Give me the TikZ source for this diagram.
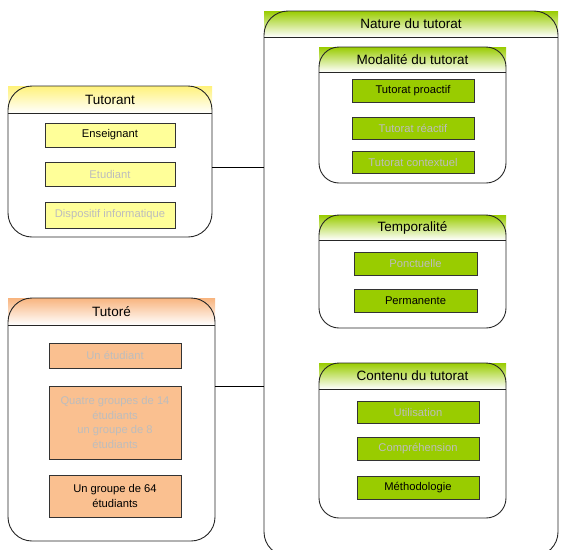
\documentclass[tikz,border=0pt]{standalone}
\usepackage{fontspec}
\setmainfont{Liberation Sans}
\definecolor{itemyellow}{HTML}{FFFF99}
\definecolor{headyellow}{HTML}{FFF27A}
\definecolor{itemorange}{HTML}{FAC090}
\definecolor{headorange}{HTML}{F8B47E}
\definecolor{itemgreen}{HTML}{99CC00}
\definecolor{headgreen}{HTML}{99CC00}
\definecolor{dimtext}{HTML}{BDBDBD}
\begin{document}
\begin{tikzpicture}[x=1pt,y=-1pt,
  panel/.style={draw=black!85,line width=0.9pt,rounded corners=24pt,inner sep=0pt},
  spanel/.style={draw=black!85,line width=0.9pt,rounded corners=20pt,inner sep=0pt},
  headline/.style={draw=black!85,line width=0.9pt},
  title/.style={font=\fontsize{13.5}{15}\selectfont,text=black,inner sep=0pt},
  item/.style={draw=black!80,line width=0.8pt,inner sep=1pt,align=center,
    font=\fontsize{11.2}{14.5}\selectfont},
  yitem/.style={item,fill=itemyellow,minimum width=130pt},
  oitem/.style={item,fill=itemorange,minimum width=132pt},
  gitem/.style={item,fill=itemgreen,minimum width=122pt},
  dim/.style={text=dimtext},
  link/.style={draw=black,line width=0.9pt}
]
\useasboundingbox (0,0) rectangle (561,549);
\clip (0,0) rectangle (561,549);

% ---------- Tutorant ----------
\shade[top color=headyellow,bottom color=white] (8,86) rectangle (212,113);
\node[panel,minimum width=204pt,minimum height=151pt] (tutorant) at (110,161.5) {};
\draw[headline] (8,113) -- (212,113);
\node[title] (tutoranttitle) at (110,99.5) {Tutorant};
\node[yitem,minimum height=24pt] (enseignant) at (110,135) {Enseignant};
\node[yitem,dim,minimum height=24pt] (etudiant) at (110,174) {Etudiant};
\node[yitem,dim,minimum height=26pt] (dispositif) at (110,215) {Dispositif informatique};

% ---------- Tutoré ----------
\shade[top color=headorange,bottom color=white] (8,298) rectangle (215,325);
\node[panel,minimum width=207pt,minimum height=243pt] (tutore) at (111.5,419.5) {};
\draw[headline] (8,325) -- (215,325);
\node[title] (tutoretitle) at (111.5,311.5) {Tutoré};
\node[oitem,dim,minimum height=25pt] (unetudiant) at (115,355.5) {Un étudiant};
\node[oitem,dim,minimum height=73pt] (quatre) at (115,422.5) {Quatre groupes de 14\\étudiants\\un groupe de 8\\étudiants};
\node[oitem,minimum height=42pt] (soixante) at (115,496) {Un groupe de 64\\étudiants};

% ---------- Nature du tutorat ----------
\shade[top color=headgreen,bottom color=white] (264,11) rectangle (558,37);
\node[panel,minimum width=294pt,minimum height=545pt] (nature) at (411,283.5) {};
\draw[headline] (264,37) -- (558,37);
\node[title] (naturetitle) at (411,24) {Nature du tutorat};

% Modalité
\shade[top color=headgreen,bottom color=white] (319,47) rectangle (506,72);
\node[spanel,minimum width=187pt,minimum height=136pt] (modalite) at (412.5,115) {};
\draw[headline] (319,72) -- (506,72);
\node[title] (modalitetitle) at (412.5,59.5) {Modalité du tutorat};
\node[gitem,minimum height=23pt] (proactif) at (413,90.5) {Tutorat proactif};
\node[gitem,dim,minimum height=22pt] (reactif) at (413,128) {Tutorat réactif};
\node[gitem,dim,minimum height=22pt] (contextuel) at (413,162) {Tutorat contextuel};

% Temporalité
\shade[top color=headgreen,bottom color=white] (319,215) rectangle (506,240);
\node[spanel,minimum width=187pt,minimum height=113pt] (temporalite) at (412.5,271.5) {};
\draw[headline] (319,240) -- (506,240);
\node[title] (temporalitetitle) at (412.5,227.5) {Temporalité};
\node[gitem,dim,minimum height=23pt,minimum width=123pt] (ponctuelle) at (415.5,263.5) {Ponctuelle};
\node[gitem,minimum height=23pt,minimum width=123pt] (permanente) at (415.5,300.5) {Permanente};

% Contenu
\shade[top color=headgreen,bottom color=white] (319,363) rectangle (506,389);
\node[spanel,minimum width=187pt,minimum height=155pt] (contenu) at (412.5,440.5) {};
\draw[headline] (319,389) -- (506,389);
\node[title] (contenutitle) at (412.5,376) {Contenu du tutorat};
\node[gitem,dim,minimum height=22pt] (utilisation) at (418,412) {Utilisation};
\node[gitem,dim,minimum height=23pt] (comprehension) at (418,448.5) {Compréhension};
\node[gitem,minimum height=23pt] (methodologie) at (418,487.5) {Méthodologie};

% ---------- Connectors ----------
\coordinate (c1) at (0,167);
\coordinate (c2) at (0,386);
\draw[link] (tutorant.east |- c1) -- (nature.west |- c1);
\draw[link] (tutore.east |- c2) -- (nature.west |- c2);
\end{tikzpicture}
\end{document}
